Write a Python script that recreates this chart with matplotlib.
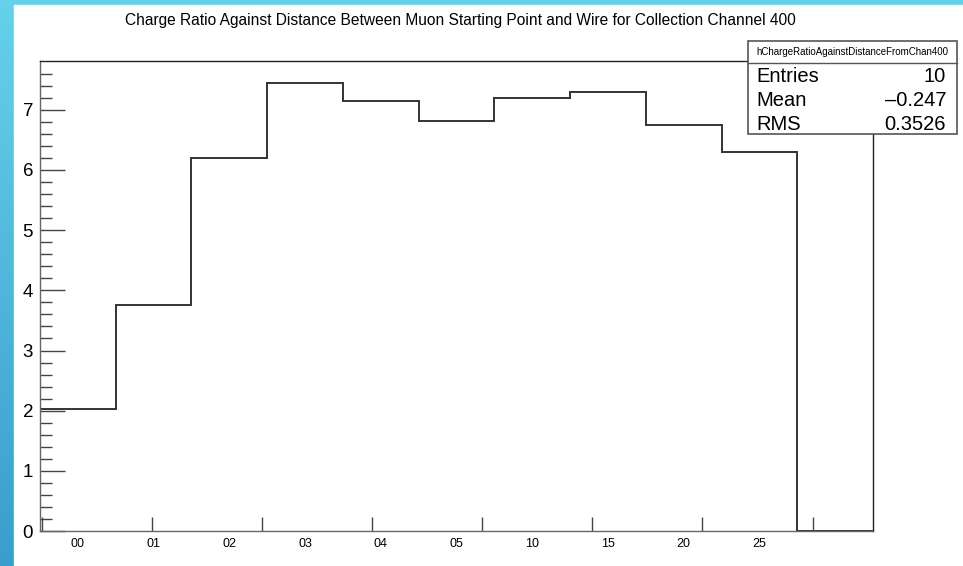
import matplotlib
matplotlib.use('Agg')
import matplotlib.pyplot as plt
import numpy as np
from matplotlib.patches import Rectangle
from matplotlib.lines import Line2D

plt.rcParams['font.family'] = ['Liberation Sans', 'DejaVu Sans']

# histogram contents, one value per bin (11 bins, last one empty)
bin_labels = ['00', '01', '02', '03', '04', '05', '10', '15', '20', '25', '']
bin_values = [2.03, 3.76, 6.20, 7.44, 7.14, 6.82, 7.19, 7.29, 6.75, 6.30, 0.0]

# stat box
hist_name = 'hChargeRatioAgainstDistanceFromChan400'
stat_names = ['Entries', 'Mean', 'RMS']
stat_values = ['10', '\u20130.247', '0.3526']

title = 'Charge Ratio Against Distance Between Muon Starting Point and Wire for Collection Channel 400'

W, H = 963, 566
fig = plt.figure(figsize=(W / 100, H / 100), dpi=100)

# blue border behind the white canvas (screenshot frame)
bg = fig.add_axes([0, 0, 1, 1], zorder=-10)
grad = np.linspace(0, 1, 256).reshape(-1, 1)
top_c = np.array([0.40, 0.82, 0.92])
bot_c = np.array([0.22, 0.62, 0.80])
img = top_c[None, None, :] * (1 - grad[:, :, None]) + bot_c[None, None, :] * grad[:, :, None]
bg.imshow(img, aspect='auto', extent=[0, 1, 0, 1], origin='upper')
bg.add_patch(Rectangle((14 / W, 0), 1, 1 - 5 / H, color='white'))
bg.set_xlim(0, 1)
bg.set_ylim(0, 1)
bg.axis('off')

def px(x0, y0, x1, y1):
    # pixel box (top-left origin) -> figure fraction [l, b, w, h]
    return [x0 / W, 1 - y1 / H, (x1 - x0) / W, (y1 - y0) / H]

ax = fig.add_axes(px(40, 61, 873, 531.1))
n = len(bin_values)
edges = np.arange(n + 1)
ax.stairs(bin_values, edges, color='#333333', linewidth=1.4)

ax.set_xlim(0, n)
ax.set_ylim(0, 7.81)

for s in ax.spines.values():
    s.set_color('#222222')
    s.set_linewidth(1.0)
ax.spines['left'].set_color('#666666')
ax.spines['bottom'].set_color('#666666')

# y axis: majors every 1, 5 subdivisions, ticks inside
ax.set_yticks(np.arange(0, 8))
ax.set_yticks(np.arange(0, 7.7, 0.2), minor=True)
ax.tick_params(axis='y', which='major', direction='in', length=18, width=1,
               color='#444444', labelsize=13.5, pad=5)
ax.tick_params(axis='y', which='minor', direction='in', length=8.6, width=1,
               color='#444444')

# x axis: tick marks at regular divisions, labels at bin centres
ax.set_xticks(0.02 + np.arange(8) * 16 / 11)
ax.set_xticklabels([])
ax.set_xticks(np.arange(n) + 0.5, minor=True)
ax.set_xticklabels(bin_labels, minor=True)
ax.tick_params(axis='x', which='major', direction='in', length=10, width=1,
               color='#444444')
ax.tick_params(axis='x', which='minor', length=0, labelsize=9, pad=5)

fig.text(460 / W, 1 - 20 / H, title, ha='center', va='center', fontsize=11.2)

# stat box
bx0, by0, bx1, by1, bsep = 748, 41, 957, 134, 63
fig.add_artist(Rectangle((bx0 / W, 1 - by1 / H), (bx1 - bx0) / W, (by1 - by0) / H,
                         transform=fig.transFigure, facecolor='white',
                         edgecolor='#555555', linewidth=1.2, zorder=5))
fig.add_artist(Line2D([bx0 / W, bx1 / W], [1 - bsep / H, 1 - bsep / H],
                      transform=fig.transFigure, color='#555555', linewidth=1.0, zorder=6))
fig.text((bx0 + bx1) / 2 / W, 1 - 52 / H, hist_name, ha='center', va='center',
         fontsize=7.0, zorder=7)
for i, (nm, val) in enumerate(zip(stat_names, stat_values)):
    yy = 1 - (77 + i * 23.5) / H
    fig.text(756 / W, yy, nm, ha='left', va='center', fontsize=14.5, zorder=7)
    fig.text(946 / W, yy, val, ha='right', va='center', fontsize=14.5, zorder=7)

fig.savefig('out.png', dpi=100)
